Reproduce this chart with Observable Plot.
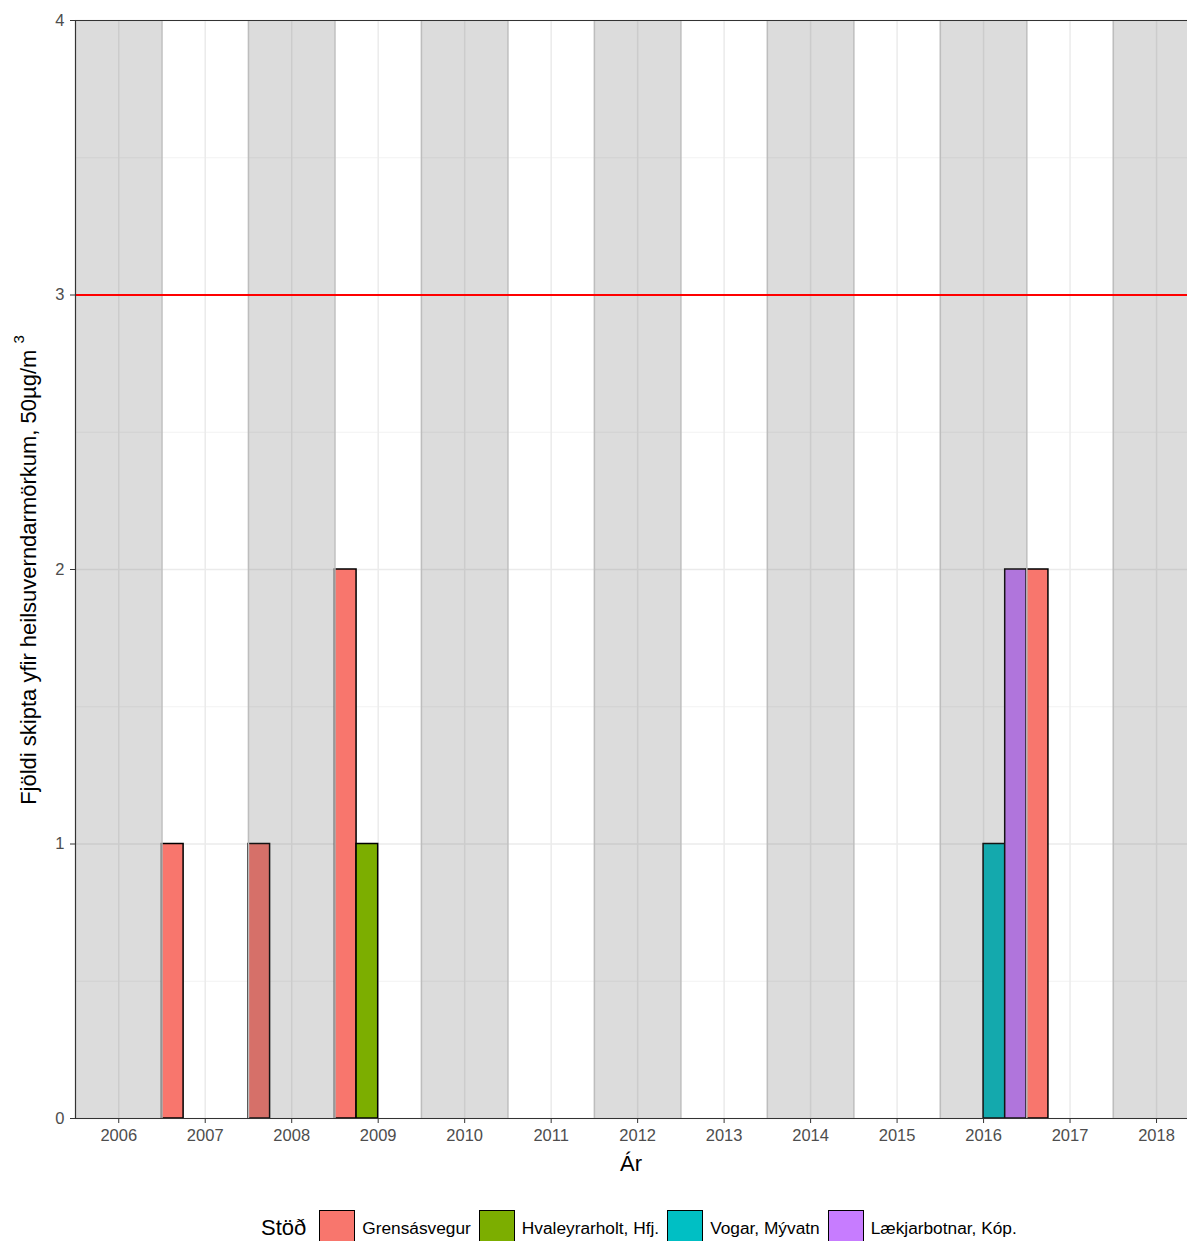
<!DOCTYPE html>
<html>
<head>
<meta charset="utf-8">
<script src="https://cdn.jsdelivr.net/npm/d3@7"></script>
<script src="https://cdn.jsdelivr.net/npm/@observablehq/plot@0.6"></script>
<style>
  body { margin: 0; background: #fff; font-family: "Liberation Sans", Arial, sans-serif; }
  #legend { display: flex; align-items: center; margin-left: 261px; margin-top: 30px; height: 36px; }
  #legend .title { font-size: 22px; color: #000; margin-right: 13px; }
  #legend .key { width: 34px; height: 34px; border: 1.5px solid #000; margin-right: 7px; }
  #legend .lab { font-size: 17.3px; color: #000; margin-right: 8px; }
</style>
</head>
<body>
<div id="chart"></div>
<div id="legend"></div>
<script>
// ---- data ----
const stations = ["Grensásvegur", "Hvaleyrarholt, Hfj.", "Vogar, Mývatn", "Lækjarbotnar, Kóp."];
const stationColors = ["#F8766D", "#7CAE00", "#00BFC4", "#C77CFF"];

const barStation = ["Grensásvegur", "Grensásvegur", "Grensásvegur", "Hvaleyrarholt, Hfj.", "Vogar, Mývatn", "Lækjarbotnar, Kóp.", "Grensásvegur"];
const barStart = [2006.5, 2007.5, 2008.5, 2008.75, 2016.0, 2016.25, 2016.5];
const barEnd   = [2006.75, 2007.75, 2008.75, 2009.0, 2016.25, 2016.5, 2016.75];
const barCount = [1, 1, 2, 1, 1, 2, 2];

const yearTicks = [2006, 2007, 2008, 2009, 2010, 2011, 2012, 2013, 2014, 2015, 2016, 2017, 2018];
const yTicks = [0, 1, 2, 3, 4];
const yMinor = [0.5, 1.5, 2.5, 3.5];
const bandStart = [2005.5, 2007.5, 2009.5, 2011.5, 2013.5, 2015.5, 2017.5];
const bandEdges = [2006.5, 2007.5, 2008.5, 2009.5, 2010.5, 2011.5, 2012.5, 2013.5, 2014.5, 2015.5, 2016.5, 2017.5];
const limitValue = 3;

const xDomain = [2005.5, 2018.358];
const yDomain = [0, 4];

const bars = barStart.map((s, i) => ({start: s, end: barEnd[i], count: barCount[i], station: barStation[i]}));
const bands = bandStart.map(s => ({x1: s, x2: s + 1}));

const svg = Plot.plot({
  width: 1187,
  height: 1180,
  marginLeft: 75,
  marginRight: 0,
  marginTop: 20,
  marginBottom: 62,
  style: { fontFamily: "Liberation Sans, Arial, sans-serif", background: "#fff" },
  x: { domain: xDomain },
  y: { domain: yDomain },
  color: { domain: stations, range: stationColors },
  marks: [
    Plot.ruleY(yMinor, { stroke: "#f2f2f2", strokeWidth: 1 }),
    Plot.ruleY(yTicks, { stroke: "#ebebeb", strokeWidth: 1.5 }),
    Plot.ruleX(yearTicks, { stroke: "#ebebeb", strokeWidth: 1.5 }),
    Plot.rect(bars, { x1: "start", x2: "end", y1: 0, y2: "count", fill: "station", stroke: "#000", strokeWidth: 1.5 }),
    Plot.rect(bands, { x1: "x1", x2: "x2", y1: 0, y2: 4, fill: "rgb(92,92,92)", fillOpacity: 0.216, clip: true }),
    Plot.ruleX(bandEdges, { stroke: "#bdbdbd", strokeWidth: 1.5 }),
    Plot.ruleY([limitValue], { stroke: "#ff0000", strokeWidth: 2 }),
    Plot.ruleX([xDomain[0]], { stroke: "#333", strokeWidth: 1.2 }),
    Plot.ruleY([yDomain[1]], { stroke: "#333", strokeWidth: 1.2 }),
    Plot.ruleY([yDomain[0]], { stroke: "#333", strokeWidth: 1.2 }),
    Plot.axisX({ ticks: yearTicks, tickFormat: d => String(d), tickSize: 5, tickPadding: 6, stroke: "#333", fill: "#4d4d4d", label: null }),
    Plot.axisY({ ticks: yTicks, tickFormat: d => String(d), tickSize: 5, tickPadding: 6, stroke: "#333", fill: "#4d4d4d", label: null })
  ]
});

const s = d3.select(svg);
s.selectAll('g[aria-label="x-axis tick label"], g[aria-label="y-axis tick label"]')
  .attr("font-size", 16.5).style("font-size", "16.5px");

s.append("text")
  .attr("x", 631).attr("y", 1171)
  .attr("text-anchor", "middle")
  .attr("font-size", 22).attr("fill", "#000")
  .text("Ár");

const yl = s.append("text")
  .attr("transform", "translate(36,570) rotate(-90)")
  .attr("text-anchor", "middle")
  .attr("font-size", 22).attr("fill", "#000");
yl.append("tspan").text("Fjöldi skipta yfir heilsuverndarmörkum, 50µg/m ");
yl.append("tspan").attr("font-size", 15).attr("dy", -12).text("3");

document.getElementById("chart").appendChild(svg);

// legend
const lg = document.getElementById("legend");
const t = document.createElement("span");
t.className = "title"; t.textContent = "Stöð";
lg.appendChild(t);
stations.forEach((st, i) => {
  const k = document.createElement("span");
  k.className = "key"; k.style.background = stationColors[i];
  lg.appendChild(k);
  const l = document.createElement("span");
  l.className = "lab"; l.textContent = st;
  lg.appendChild(l);
});
</script>
</body>
</html>
